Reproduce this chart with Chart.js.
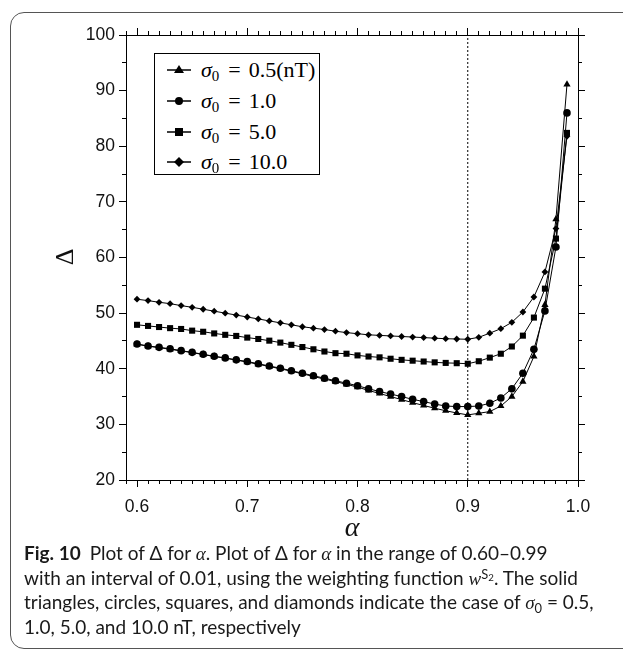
<!DOCTYPE html>
<html lang="en">
<head>
    <meta charset="UTF-8">
    <title>Plot of Delta for alpha</title>
    <style>
        body {
            margin: 0;
            width: 623px;
            height: 651px;
            overflow: hidden;
            background: #fff;
            position: relative;
        }
        .frame {
            position: absolute;
            left: 10px;
            top: 12px;
            width: 700px;
            height: 637px;
            border: 1px solid #555;
            border-radius: 14px;
            box-sizing: border-box;
        }
        #chartBox {
            position: absolute;
            left: 0;
            top: 0;
            width: 623px;
            height: 545px;
        }
        .ytitle {
            position: absolute;
            left: 45px;
            top: 242px;
            width: 40px;
            height: 30px;
            line-height: 30px;
            text-align: center;
            font-family: "Liberation Serif", serif;
            font-size: 26px;
            color: #111;
            transform: rotate(-90deg);
        }
        .legend {
            position: absolute;
            left: 154px;
            top: 53px;
            width: 166px;
            height: 122px;
            border: 1px solid #000;
            background: #fff;
            box-sizing: border-box;
            font-family: "Liberation Serif", serif;
            font-size: 22px;
        }
        .legend .row {
            position: absolute;
            left: 0;
            height: 24px;
            line-height: 24px;
            white-space: nowrap;
        }
        .legend svg {
            position: absolute;
            left: 12px;
            top: 5px;
        }
        .legend span.t {
            position: absolute;
            left: 46px;
            top: 0;
        }
        .legend .eq {
            margin: 0 8px 0 9px;
        }
        .lo {
            position: relative;
            font-size: 0.68em;
            top: 0.3em;
            line-height: 0;
        }
        .hi {
            position: relative;
            font-size: 0.68em;
            top: -0.45em;
            line-height: 0;
        }
        .caption {
            position: absolute;
            left: 24px;
            top: 541px;
            font-family: Lato, sans-serif;
            font-size: 19px;
            line-height: 24.7px;
            color: #1a1a1a;
            white-space: nowrap;
        }
        .caption span {
            line-height: 0;
        }
        .caption b {
            font-weight: bold;
            margin-right: 4px;
        }
        .caption .m {
            font-family: "Liberation Serif", serif;
            font-style: italic;
        }
    </style>
</head>
<body>
    <div class="frame"></div>
    <div id="chartBox"><canvas id="plot"></canvas></div>
    <div class="ytitle">Δ</div>

    <div class="legend">
        <div class="row" style="top:4px">
            <svg width="26" height="14"><line x1="0" y1="7" x2="24" y2="7" stroke="#000" stroke-width="1.5"/><polygon points="12,2 17,10 7,10" fill="#000"/></svg>
            <span class="t"><i>σ</i><span class="lo">0</span><span class="eq">=</span>0.5(nT)</span>
        </div>
        <div class="row" style="top:35px">
            <svg width="26" height="14"><line x1="0" y1="7" x2="24" y2="7" stroke="#000" stroke-width="1.5"/><circle cx="12" cy="7" r="4" fill="#000"/></svg>
            <span class="t"><i>σ</i><span class="lo">0</span><span class="eq">=</span>1.0</span>
        </div>
        <div class="row" style="top:66px">
            <svg width="26" height="14"><line x1="0" y1="7" x2="24" y2="7" stroke="#000" stroke-width="1.5"/><rect x="8" y="3" width="8" height="8" fill="#000"/></svg>
            <span class="t"><i>σ</i><span class="lo">0</span><span class="eq">=</span>5.0</span>
        </div>
        <div class="row" style="top:96px">
            <svg width="26" height="14"><line x1="0" y1="7" x2="24" y2="7" stroke="#000" stroke-width="1.5"/><polygon points="12,2 17,7 12,12 7,7" fill="#000"/></svg>
            <span class="t"><i>σ</i><span class="lo">0</span><span class="eq">=</span>10.0</span>
        </div>
    </div>

    <div class="caption">
        <b>Fig. 10</b> Plot of Δ for <span class="m">α</span>. Plot of Δ for <span class="m">α</span> in the range of 0.60–0.99<br>
        with an interval of 0.01, using the weighting function <span class="m">w</span><span class="hi">S<span style="font-size:0.75em;position:relative;top:0.25em">2</span></span>. The solid<br>
        triangles, circles, squares, and diamonds indicate the case of <span class="m">σ</span><span class="lo">0</span> = 0.5,<br>
        1.0, 5.0, and 10.0 nT, respectively
    </div>

    <script src="https://cdn.jsdelivr.net/npm/chart.js"></script>
    <script>
        // alpha values (x)
        const alphas = [0.60, 0.61, 0.62, 0.63, 0.64, 0.65, 0.66, 0.67, 0.68, 0.69,
                        0.70, 0.71, 0.72, 0.73, 0.74, 0.75, 0.76, 0.77, 0.78, 0.79,
                        0.80, 0.81, 0.82, 0.83, 0.84, 0.85, 0.86, 0.87, 0.88, 0.89,
                        0.90, 0.91, 0.92, 0.93, 0.94, 0.95, 0.96, 0.97, 0.98, 0.99];

        // Delta for each sigma_0
        const delta05 = [44.4, 44.05, 43.8, 43.5, 43.2, 42.9, 42.55, 42.2, 41.9, 41.55,
                         41.2, 40.8, 40.4, 40.0, 39.55, 39.1, 38.6, 38.15, 37.7, 37.2,
                         36.7, 36.1, 35.55, 35.0, 34.45, 33.9, 33.4, 32.9, 32.45, 32.05,
                         31.7, 32.0, 32.3, 33.3, 35.0, 37.7, 42.2, 51.5, 66.9, 91.1];
        const delta10 = [44.45, 44.1, 43.85, 43.6, 43.25, 42.95, 42.6, 42.25, 41.95, 41.6,
                         41.3, 40.9, 40.5, 40.1, 39.65, 39.2, 38.75, 38.3, 37.85, 37.4,
                         36.95, 36.4, 35.9, 35.45, 35.0, 34.5, 34.1, 33.65, 33.3, 33.2,
                         33.2, 33.3, 33.8, 34.75, 36.4, 39.2, 43.5, 50.4, 61.9, 86.0];
        const delta50 = [47.9, 47.7, 47.5, 47.3, 47.15, 46.85, 46.65, 46.35, 46.1, 45.9,
                         45.6, 45.35, 45.05, 44.7, 44.3, 43.9, 43.5, 43.1, 42.8, 42.7,
                         42.4, 42.2, 42.05, 41.8, 41.6, 41.45, 41.3, 41.15, 41.05, 41.0,
                         40.9, 41.35, 42.0, 42.7, 44.0, 45.95, 49.2, 54.4, 63.4, 82.4];
        const delta100 = [52.5, 52.25, 51.95, 51.7, 51.35, 51.05, 50.7, 50.35, 50.0, 49.65,
                          49.3, 48.95, 48.6, 48.25, 47.9, 47.55, 47.3, 47.05, 46.75, 46.5,
                          46.3, 46.1, 46.0, 45.9, 45.8, 45.7, 45.6, 45.5, 45.4, 45.35,
                          45.3, 45.65, 46.4, 47.2, 48.35, 50.2, 52.9, 57.4, 65.2, 81.8];

        const seriesNames = ['σ0 = 0.5(nT)', 'σ0 = 1.0', 'σ0 = 5.0', 'σ0 = 10.0'];

        // tick values
        const xMajorTicks = [0.6, 0.7, 0.8, 0.9, 1.0];
        const xMinorTicks = [0.59, 0.6, 0.61, 0.62, 0.63, 0.64, 0.65, 0.66, 0.67, 0.68, 0.69,
                             0.7, 0.71, 0.72, 0.73, 0.74, 0.75, 0.76, 0.77, 0.78, 0.79,
                             0.8, 0.81, 0.82, 0.83, 0.84, 0.85, 0.86, 0.87, 0.88, 0.89,
                             0.9, 0.91, 0.92, 0.93, 0.94, 0.95, 0.96, 0.97, 0.98, 0.99, 1.0];
        const yMajorTicks = [20, 30, 40, 50, 60, 70, 80, 90, 100];
        const yMinorTicks = [25, 35, 45, 55, 65, 75, 85, 95];

        const xMin = 0.59, xMax = 1.0;
        const yMin = 20, yMax = 100;
        const markLineX = 0.9;

        const pts = vals => alphas.map((a, i) => ({ x: a, y: vals[i] }));

        function series(label, vals, style, radius, order) {
            return {
                label: label,
                data: pts(vals),
                borderColor: '#000',
                backgroundColor: '#000',
                borderWidth: 1,
                pointStyle: style,
                pointRadius: radius,
                pointBorderWidth: 0,
                order: order
            };
        }

        // builds one of the mirrored axes (major or minor ticks)
        function axis(pos, min, max, tickVals, tickLen, weight, size) {
            const horiz = pos === 'top' || pos === 'bottom';
            return {
                type: 'linear',
                position: pos,
                min: min,
                max: max,
                weight: weight,
                afterBuildTicks: s => { s.ticks = tickVals.map(v => ({ value: v })); },
                afterFit: s => { if (horiz) s.height = size; else s.width = size; },
                grid: { drawOnChartArea: false, tickLength: tickLen, tickColor: '#000', tickWidth: 1 },
                border: { display: true, color: '#000', width: 1 },
                ticks: { display: false }
            };
        }

        const tickFont = { family: 'Liberation Sans', size: 17.5 };

        const xAxis = axis('bottom', xMin, xMax, xMajorTicks, 7, 1, 65);
        xAxis.ticks = { display: true, font: tickFont, color: '#111', padding: 10,
                        callback: v => v.toFixed(1) };
        xAxis.title = { display: true, text: 'α', color: '#111',
                        font: { family: 'Liberation Serif', style: 'italic', size: 28 },
                        padding: { top: 0, bottom: 0 } };

        const yAxis = axis('left', yMin, yMax, yMajorTicks, 7, 1, 126);
        yAxis.ticks = { display: true, font: tickFont, color: '#111', padding: 4 };

        new Chart(document.getElementById('plot'), {
            type: 'line',
            data: {
                datasets: [
                    series(seriesNames[0], delta05, 'triangle', 4.2, 4),
                    series(seriesNames[1], delta10, 'circle', 3.8, 3),
                    series(seriesNames[2], delta50, 'rect', 4.3, 2),
                    series(seriesNames[3], delta100, 'rectRot', 3.4, 1),
                    {
                        label: 'alpha = 0.9',
                        data: [{ x: markLineX, y: yMin }, { x: markLineX, y: yMax }],
                        borderColor: '#000',
                        borderWidth: 1,
                        borderDash: [2, 2],
                        pointRadius: 0,
                        order: 5
                    }
                ]
            },
            options: {
                responsive: true,
                maintainAspectRatio: false,
                animation: false,
                layout: { padding: { top: 35, right: 45, left: 0, bottom: 0 } },
                plugins: {
                    legend: { display: false },
                    tooltip: { enabled: false }
                },
                scales: {
                    x: xAxis,
                    xMinor: axis('bottom', xMin, xMax, xMinorTicks, 4, 0, 0),
                    xTop: axis('top', xMin, xMax, xMajorTicks, 7, 1, 0),
                    xTopMinor: axis('top', xMin, xMax, xMinorTicks, 4, 0, 0),
                    y: yAxis,
                    yMinor: axis('left', yMin, yMax, yMinorTicks, 4, 0, 0),
                    yRight: axis('right', yMin, yMax, yMajorTicks, 7, 1, 0),
                    yRightMinor: axis('right', yMin, yMax, yMinorTicks, 4, 0, 0)
                }
            }
        });
    </script>
</body>
</html>
